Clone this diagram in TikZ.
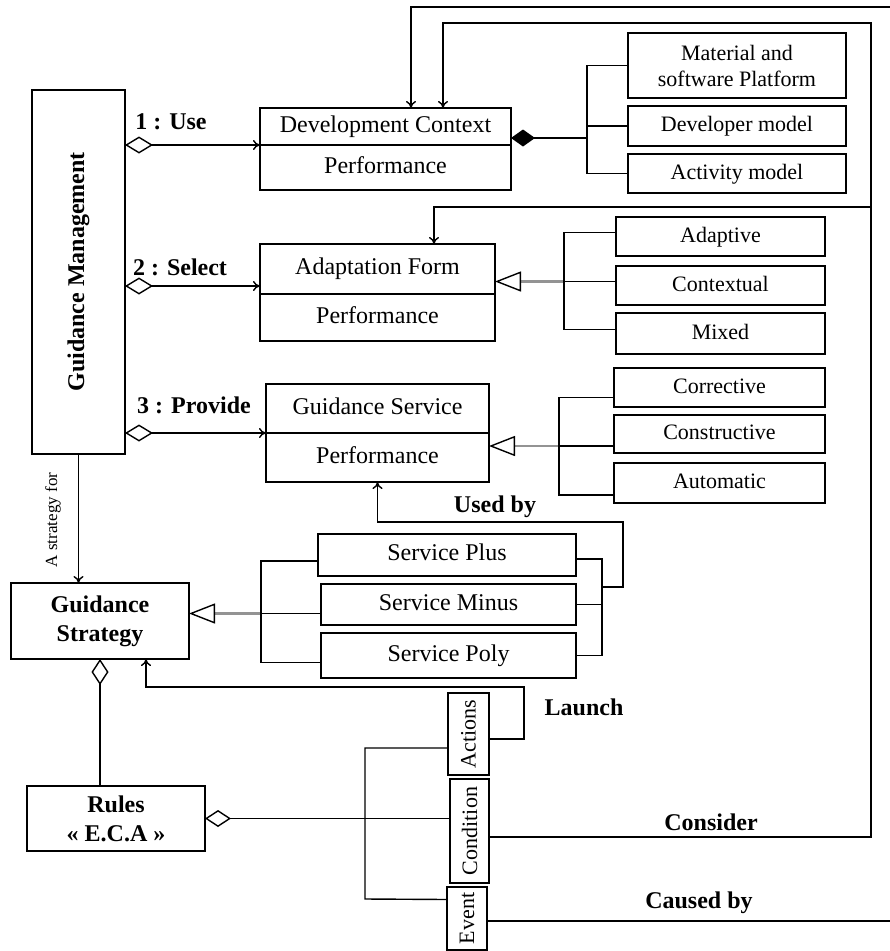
\documentclass[tikz,border=0pt]{standalone}
\usepackage{fontspec}
\setmainfont{Liberation Serif}
\usetikzlibrary{arrows.meta,positioning}
\tikzset{node distance=0pt,
	box/.style={
		draw,
		line width=1.6pt,
		inner sep=0pt,
		outer sep=0pt,
		align=center,
		font=\fontsize{24}{28}\selectfont
	},
	oneline/.style={text height=16pt, text depth=5pt},
	leaf/.style={box, minimum width=209pt, font=\fontsize{22}{26}\selectfont},
	boldbox/.style={box, font=\bfseries\fontsize{24}{29}\selectfont},
	tag/.style={font=\bfseries\fontsize{24}{28}\selectfont},
	agg/.style={{Diamond[open,length=28pt,width=17pt]}-{To[length=7pt,width=10pt]}},
	aggl/.style={{Diamond[open,length=26pt,width=17pt]}-},
	comp/.style={{Diamond[length=24pt,width=17pt]}-},
	gen/.style={
		-{Triangle[open,length=26pt,width=20pt,color=black,line width=1.4pt]},
		draw=gray!85,
		line width=2.6pt
	}
}

\begin{document}
\begin{tikzpicture}[x=1pt,y=-1pt,line width=1.4pt,>={To[length=7pt,width=10pt]}]
	\useasboundingbox (0,0) rectangle (890,951);

	\node[box, minimum width=93pt, minimum height=364pt] (gm) at (78.5,272) {\rotatebox{90}{\bfseries Guidance Management}};

	\node[box, oneline, minimum width=251pt, minimum height=37pt] (dc) at (385.5,126.5) {Development Context};
	\node[box, oneline, minimum width=251pt, minimum height=45pt, below=of dc] (dcp) {Performance};
	\node[box, oneline, minimum width=235pt, minimum height=50pt] (af) at (377.5,269) {Adaptation Form};
	\node[box, oneline, minimum width=235pt, minimum height=47pt, below=of af] (afp) {Performance};
	\node[box, oneline, minimum width=223pt, minimum height=49pt] (gs) at (377.5,408.5) {Guidance Service};
	\node[box, oneline, minimum width=223pt, minimum height=49pt, below=of gs] (gsp) {Performance};

	\node[leaf, minimum width=218pt, minimum height=65pt] (mat) at (737,65.5) {Material and\\software Platform};
	\node[leaf, oneline, minimum width=218pt, minimum height=40pt] (dev) at (737,126) {Developer model};
	\node[leaf, oneline, minimum width=218pt, minimum height=39pt] (act) at (737,173.5) {Activity model};
	\node[leaf, oneline, minimum height=39pt] (ada) at (720.5,236.5) {Adaptive};
	\node[leaf, oneline, minimum height=39pt] (ctx) at (720.5,285.5) {Contextual};
	\node[leaf, oneline, minimum height=41pt] (mix) at (720.5,333.5) {Mixed};
	\node[leaf, oneline, minimum width=211pt, minimum height=39pt] (cor) at (719.5,387.5) {Corrective};
	\node[leaf, oneline, minimum width=211pt, minimum height=38pt] (con) at (719.5,434) {Constructive};
	\node[leaf, oneline, minimum width=211pt, minimum height=40pt] (aut) at (719.5,483) {Automatic};

	\node[boldbox, minimum width=178pt, minimum height=76pt] (strat) at (100,621) {Guidance\\Strategy};
	\node[box, oneline, minimum width=258pt, minimum height=42pt] (splus) at (447,555) {Service Plus};
	\node[box, oneline, minimum width=255pt, minimum height=41pt] (sminus) at (448.5,604.5) {Service Minus};
	\node[box, oneline, minimum width=255pt, minimum height=45pt] (spoly) at (448.5,655.5) {Service Poly};

	\node[boldbox, minimum width=178pt, minimum height=65pt] (rules) at (116,818.5) {Rules\\« E.C.A »};
	\node[leaf, minimum width=41pt, minimum height=82pt] (actions) at (468.5,734) {\rotatebox{90}{Actions}};
	\node[leaf, minimum width=39pt, minimum height=104pt] (cond) at (469.5,831) {\rotatebox{90}{Condition}};
	\node[leaf, minimum width=40pt, minimum height=63pt] (event) at (467,918.5) {\rotatebox{90}{Event}};

	\node[tag] (use) at (171,122) {1 : Use};
	\node[tag] (select) at (180,267) {2 : Select};
	\node[tag] (provide) at (194,405) {3 : Provide};
	\node[tag] (usedby) at (495,507) {Used by};
	\node[tag] (launch) at (584,707) {Launch};
	\node[tag] (consider) at (711,822) {Consider};
	\node[tag] (causedby) at (699,903) {Caused by};
	\node[font=\fontsize{17}{20}\selectfont, rotate=90] (for) at (53,520) {A strategy for};

	\coordinate (a2) at ([yshift=8pt]af.south west);
	\draw[agg] (gm.east |- dc.south west) -- (dc.south west);
	\draw[agg] (gm.east |- a2) -- (a2);
	\draw[agg] (gm.east |- gs.south west) -- (gs.south west);
	\draw[->] (gm.south) -- (gm.south |- strat.north);

	\coordinate (dcj) at (587,138);
	\draw[comp] (dc.south east |- dcj) -- (dcj);
	\draw (mat.west) -| (dcj) |- (act.west);
	\draw (dev.west) -- (dev.west -| dcj);

	\coordinate (afj) at (564,281.5);
	\draw[gen] (afj) -- (af.east |- afj);
	\draw ([yshift=4pt]ada.west) -| (afj) |- ([yshift=4pt]mix.west);
	\draw ([yshift=4pt]ctx.west) -- (afj);

	\coordinate (gsj) at (559,446);
	\draw[gen] (gsj) -- (gsp.east |- gsj);
	\draw ([yshift=-10pt]cor.west) -| (gsj) |- ([yshift=-12pt]aut.west);
	\draw ([yshift=-12pt]con.west) -- (gsj);

	\coordinate (stj) at (261,613.5);
	\draw[gen] (stj) -- (strat.east |- stj);
	\draw ([yshift=-6pt]splus.west) -| (stj) |- ([yshift=-7pt]spoly.west);
	\draw ([yshift=-9pt]sminus.west) -- (stj);

	\coordinate (usj) at (602,587);
	\draw ([yshift=-4pt]splus.east) -| (usj) |- (spoly.east);
	\draw (sminus.east) -- (sminus.east -| usj);
	\draw[->] (usj) -| (623,522) -| (gsp.south);

	\draw[aggl] (strat.south) -- (strat.south |- rules.north);
	\draw[aggl] (rules.east) -- (rules.east -| cond.west);
	\draw ([yshift=-14pt]actions.west) -| (365,899) -- ([yshift=19pt]event.west);

	\draw[->] ([yshift=-5pt]actions.east) -| (524,687) -| ([xshift=46pt]strat.south);
	\draw[->] ([yshift=-6pt]cond.east) -| (871,23) -| ([xshift=57.5pt]dc.north);
	\draw[->] (871,207) -| ([xshift=56.5pt]af.north);
	\draw[->] ([yshift=-2.5pt]event.east) -| (896,7) -| ([xshift=25.5pt]dc.north);
\end{tikzpicture}
\end{document}
